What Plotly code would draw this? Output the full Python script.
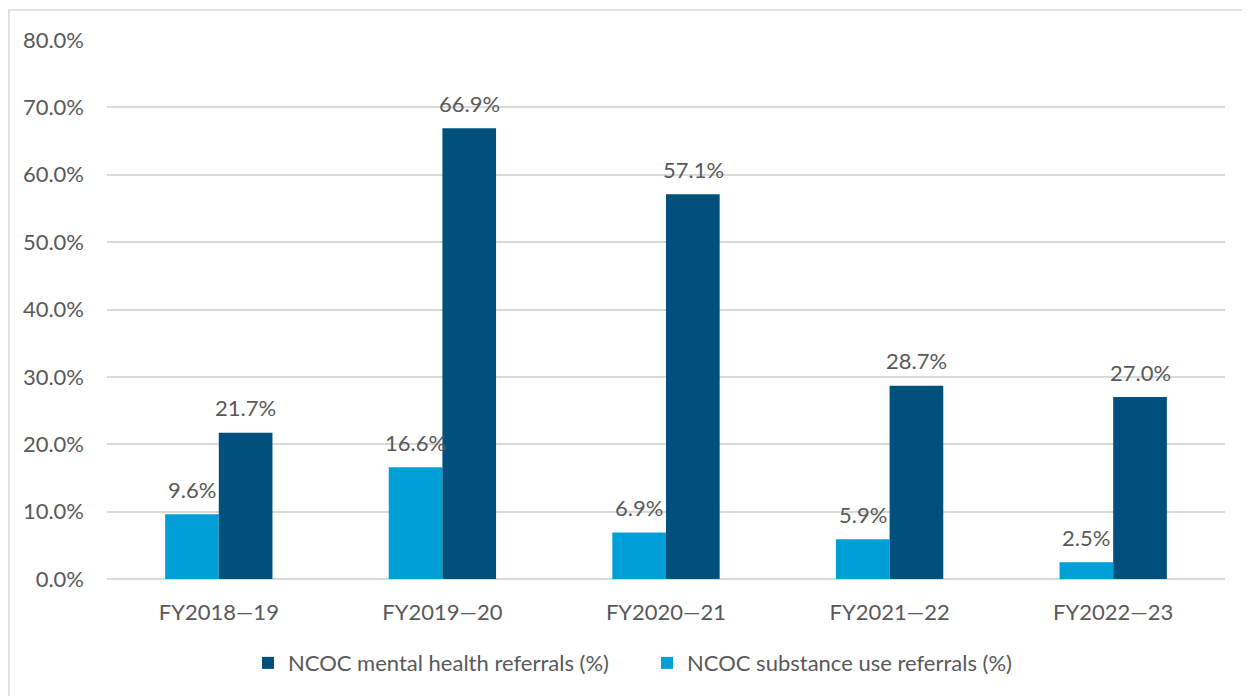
import plotly.graph_objects as go

years = ['FY2018—19', 'FY2019—20', 'FY2020—21', 'FY2021—22', 'FY2022—23']
substance = [9.6, 16.6, 6.9, 5.9, 2.5]
mental = [21.7, 66.9, 57.1, 28.7, 27.0]

font = 'Lato'
grey = '#595959'
fs = 22

fig = go.Figure()
fig.add_trace(go.Bar(x=years, y=substance, name='NCOC substance use referrals (%)',
                     marker=dict(color='#009FD7', line=dict(width=0))))
fig.add_trace(go.Bar(x=years, y=mental, name='NCOC mental health referrals (%)',
                     marker=dict(color='#00507E', line=dict(width=0))))

# data labels sit a bit higher than plotly's default outside text
annotations = []
for vals, dx in [(substance, -27), (mental, 27)]:
    for yr, v in zip(years, vals):
        annotations.append(dict(x=yr, y=v, text=f'{v:.1f}%', showarrow=False,
                                xshift=dx, yshift=25, yanchor='middle',
                                font=dict(size=fs, color=grey, family=font)))

fig.update_layout(
    width=1250, height=696,
    margin=dict(l=99, r=33, t=32, b=125),
    barmode='group', bargap=0.52, bargroupgap=0,
    plot_bgcolor='white', paper_bgcolor='white',
    font=dict(family=font, color=grey, size=fs),
    legend=dict(orientation='h', traceorder='reversed', x=0.483, xanchor='center',
                y=-0.156, yanchor='middle', font=dict(size=fs, color=grey),
                entrywidth=354, entrywidthmode='pixels'),
    showlegend=True,
    annotations=annotations,
    shapes=[dict(type='rect', xref='paper', yref='paper', x0=-0.0877, x1=1.2,
                 y0=-0.4, y1=1.0557, line=dict(color='#D9D9D9', width=1.5))],
)
fig.update_yaxes(range=[0, 80], dtick=10, ticksuffix='%', tickformat='.1f',
                 showgrid=True, gridcolor='#D9D9D9', gridwidth=1.5,
                 zeroline=True, zerolinecolor='#D9D9D9', zerolinewidth=1.5,
                 ticklabelstandoff=22, tickfont=dict(size=fs, color=grey))
fig.update_xaxes(showline=False, ticks='', ticklabelstandoff=18,
                 tickfont=dict(size=fs, color=grey))

fig.write_html('out.html')
